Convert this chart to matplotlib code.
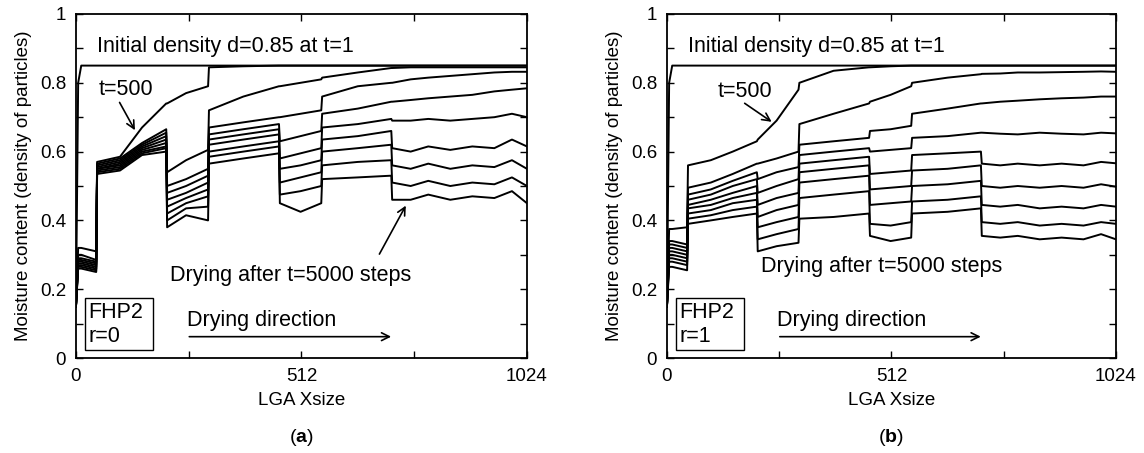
import matplotlib
matplotlib.use("Agg")
import matplotlib.pyplot as plt
from matplotlib.patches import Rectangle

plt.rcParams['font.family'] = ['Liberation Sans', 'DejaVu Sans']
plt.rcParams['mathtext.fontset'] = 'custom'
plt.rcParams['mathtext.rm'] = 'Liberation Sans'
plt.rcParams['mathtext.bf'] = 'Liberation Sans:bold'

X_NODES = [0, 5, 12, 46, 48, 100, 150, 205, 207, 250, 300, 302, 380, 461, 463,
           510, 557, 559, 640, 716, 718, 760, 800, 850, 900, 950, 990, 1024]

# panel (a), r=0 : moisture profiles, top (t=1) to bottom (t=5000)
A_L0 = [0.15, 0.80, 0.85, 0.85, 0.85, 0.85, 0.85, 0.85, 0.85, 0.85, 0.85, 0.85, 0.85, 0.85,
        0.85, 0.85, 0.85, 0.85, 0.85, 0.85, 0.85, 0.85, 0.85, 0.85, 0.85, 0.85, 0.85, 0.85]
A_L1 = [0.15, 0.32, 0.32, 0.31, 0.57, 0.585, 0.67, 0.74, 0.74, 0.77, 0.79, 0.845, 0.848, 0.85,
        0.85, 0.85, 0.85, 0.85, 0.85, 0.85, 0.85, 0.85, 0.85, 0.85, 0.85, 0.85, 0.85, 0.85]
A_L2 = [0.15, 0.30, 0.30, 0.285, 0.565, 0.58, 0.625, 0.665, 0.54, 0.575, 0.605, 0.72, 0.76, 0.79,
        0.79, 0.80, 0.81, 0.815, 0.83, 0.843, 0.843, 0.845, 0.845, 0.845, 0.845, 0.845, 0.845, 0.845]
A_L3 = [0.15, 0.29, 0.29, 0.28, 0.56, 0.575, 0.62, 0.655, 0.50, 0.52, 0.55, 0.67, 0.685, 0.70,
        0.70, 0.71, 0.72, 0.76, 0.79, 0.80, 0.80, 0.81, 0.815, 0.82, 0.825, 0.83, 0.832, 0.832]
A_L4 = [0.15, 0.285, 0.285, 0.275, 0.555, 0.57, 0.615, 0.645, 0.48, 0.50, 0.53, 0.65, 0.665, 0.68,
        0.63, 0.645, 0.66, 0.71, 0.725, 0.745, 0.745, 0.75, 0.755, 0.76, 0.765, 0.775, 0.78, 0.784]
A_L5 = [0.15, 0.28, 0.28, 0.27, 0.55, 0.565, 0.61, 0.635, 0.46, 0.48, 0.51, 0.635, 0.65, 0.665,
        0.58, 0.595, 0.61, 0.67, 0.68, 0.695, 0.69, 0.69, 0.695, 0.69, 0.695, 0.70, 0.71, 0.70]
A_L6 = [0.15, 0.275, 0.275, 0.265, 0.55, 0.56, 0.605, 0.625, 0.44, 0.465, 0.49, 0.62, 0.635, 0.65,
        0.55, 0.56, 0.575, 0.635, 0.645, 0.66, 0.61, 0.60, 0.615, 0.605, 0.615, 0.61, 0.635, 0.615]
A_L7 = [0.15, 0.27, 0.27, 0.26, 0.545, 0.555, 0.60, 0.615, 0.42, 0.45, 0.47, 0.60, 0.615, 0.63,
        0.51, 0.525, 0.54, 0.60, 0.61, 0.62, 0.56, 0.55, 0.565, 0.55, 0.56, 0.555, 0.575, 0.55]
A_L8 = [0.15, 0.265, 0.265, 0.255, 0.54, 0.55, 0.595, 0.61, 0.40, 0.435, 0.44, 0.585, 0.60, 0.615,
        0.475, 0.485, 0.50, 0.56, 0.57, 0.575, 0.51, 0.50, 0.515, 0.50, 0.51, 0.505, 0.525, 0.50]
A_L9 = [0.15, 0.26, 0.26, 0.25, 0.535, 0.545, 0.59, 0.60, 0.38, 0.415, 0.40, 0.565, 0.58, 0.595,
        0.45, 0.425, 0.45, 0.52, 0.525, 0.53, 0.46, 0.46, 0.475, 0.46, 0.47, 0.465, 0.485, 0.45]

# panel (b), r=1
B_L0 = [0.15, 0.80, 0.85, 0.85, 0.85, 0.85, 0.85, 0.85, 0.85, 0.85, 0.85, 0.85, 0.85, 0.85,
        0.85, 0.85, 0.85, 0.85, 0.85, 0.85, 0.85, 0.85, 0.85, 0.85, 0.85, 0.85, 0.85, 0.85]
B_L1 = [0.15, 0.375, 0.375, 0.38, 0.56, 0.575, 0.60, 0.63, 0.635, 0.69, 0.78, 0.80, 0.835, 0.845,
        0.845, 0.848, 0.85, 0.85, 0.85, 0.85, 0.85, 0.85, 0.85, 0.85, 0.85, 0.85, 0.85, 0.85]
B_L2 = [0.15, 0.34, 0.34, 0.33, 0.495, 0.51, 0.535, 0.565, 0.565, 0.58, 0.60, 0.68, 0.71, 0.74,
        0.745, 0.765, 0.79, 0.80, 0.815, 0.825, 0.826, 0.827, 0.83, 0.83, 0.831, 0.832, 0.833, 0.832]
B_L3 = [0.15, 0.33, 0.33, 0.32, 0.475, 0.49, 0.515, 0.54, 0.52, 0.54, 0.555, 0.62, 0.63, 0.64,
        0.66, 0.665, 0.675, 0.71, 0.725, 0.74, 0.74, 0.745, 0.748, 0.752, 0.755, 0.757, 0.76, 0.76]
B_L4 = [0.15, 0.32, 0.32, 0.31, 0.46, 0.475, 0.50, 0.52, 0.48, 0.50, 0.52, 0.59, 0.60, 0.61,
        0.60, 0.605, 0.61, 0.64, 0.645, 0.655, 0.655, 0.652, 0.65, 0.655, 0.652, 0.65, 0.655, 0.653]
B_L5 = [0.15, 0.31, 0.31, 0.30, 0.445, 0.46, 0.48, 0.50, 0.445, 0.465, 0.48, 0.565, 0.575, 0.585,
        0.535, 0.54, 0.545, 0.59, 0.595, 0.60, 0.565, 0.56, 0.565, 0.56, 0.565, 0.56, 0.57, 0.566]
B_L6 = [0.15, 0.30, 0.30, 0.29, 0.435, 0.445, 0.465, 0.48, 0.41, 0.43, 0.445, 0.54, 0.55, 0.56,
        0.49, 0.495, 0.50, 0.545, 0.55, 0.56, 0.50, 0.495, 0.50, 0.495, 0.50, 0.495, 0.505, 0.498]
B_L7 = [0.15, 0.29, 0.29, 0.28, 0.42, 0.43, 0.45, 0.46, 0.38, 0.395, 0.41, 0.51, 0.52, 0.53,
        0.445, 0.45, 0.455, 0.50, 0.505, 0.515, 0.445, 0.44, 0.445, 0.435, 0.44, 0.435, 0.445, 0.44]
B_L8 = [0.15, 0.28, 0.28, 0.27, 0.405, 0.415, 0.43, 0.44, 0.345, 0.36, 0.375, 0.465, 0.475, 0.485,
        0.39, 0.385, 0.395, 0.455, 0.46, 0.47, 0.395, 0.39, 0.395, 0.385, 0.39, 0.385, 0.395, 0.39]
B_L9 = [0.15, 0.265, 0.265, 0.255, 0.39, 0.40, 0.41, 0.42, 0.31, 0.325, 0.335, 0.405, 0.41, 0.42,
        0.355, 0.34, 0.35, 0.42, 0.425, 0.435, 0.355, 0.35, 0.355, 0.345, 0.35, 0.345, 0.36, 0.345]

PANEL_A = [A_L0, A_L1, A_L2, A_L3, A_L4, A_L5, A_L6, A_L7, A_L8, A_L9]
PANEL_B = [B_L0, B_L1, B_L2, B_L3, B_L4, B_L5, B_L6, B_L7, B_L8, B_L9]

X_TICKS = [0, 256, 512, 768, 1024]
X_TICKLABELS = ["0", "", "512", "", "1024"]
Y_TICKS = [0, 0.1, 0.2, 0.3, 0.4, 0.5, 0.6, 0.7, 0.8, 0.9, 1.0]
Y_TICKLABELS = ["0", "", "0.2", "", "0.4", "", "0.6", "", "0.8", "", "1"]

fig = plt.figure(figsize=(11.44, 4.53), dpi=100)
ax_a = fig.add_axes([0.0664, 0.2097, 0.3942, 0.7594])
ax_b = fig.add_axes([0.5830, 0.2097, 0.3925, 0.7594])

ann_fs = 15.5


def draw_panel(ax, curves, r_text, t500_xy, t500_tail, t500_tip, dry_xy, dry_arrow):
    for ys in curves:
        ax.plot(X_NODES, ys, color="black", linewidth=1.4)

    ax.set_xlim(0, 1024)
    ax.set_ylim(0, 1)
    ax.set_xticks(X_TICKS)
    ax.set_xticklabels(X_TICKLABELS)
    ax.set_yticks(Y_TICKS)
    ax.set_yticklabels(Y_TICKLABELS)
    ax.tick_params(direction="in", top=True, right=True, length=5, width=1,
                   labelsize=13.5, pad=7)
    for sp in ax.spines.values():
        sp.set_linewidth(1.3)
    ax.set_xlabel("LGA Xsize", fontsize=13.5, labelpad=5)
    ax.set_ylabel("Moisture content (density of particles)", fontsize=13.5, labelpad=6)

    ax.text(47, 0.905, "Initial density d=0.85 at t=1", fontsize=ann_fs, ha="left", va="center")
    ax.text(t500_xy[0], t500_xy[1], "t=500", fontsize=ann_fs, ha="left", va="center")
    ax.annotate("", xy=t500_tip, xytext=t500_tail,
                arrowprops=dict(arrowstyle="->", lw=1.2, color="black", mutation_scale=14))
    ax.text(dry_xy[0], dry_xy[1], "Drying after t=5000 steps", fontsize=ann_fs,
            ha="left", va="center")
    if dry_arrow is not None:
        ax.annotate("", xy=dry_arrow[1], xytext=dry_arrow[0],
                    arrowprops=dict(arrowstyle="->", lw=1.2, color="black", mutation_scale=14))

    ax.add_patch(Rectangle((20, 0.022), 155, 0.153, fill=False, edgecolor="black", linewidth=1.0))
    ax.text(28, 0.132, "FHP2", fontsize=ann_fs, ha="left", va="center")
    ax.text(28, 0.062, r_text, fontsize=ann_fs, ha="left", va="center")

    ax.text(251, 0.11, "Drying direction", fontsize=ann_fs, ha="left", va="center")
    ax.annotate("", xy=(722, 0.062), xytext=(251, 0.062),
                arrowprops=dict(arrowstyle="->", lw=1.2, color="black", mutation_scale=14))


draw_panel(ax_a, PANEL_A, "r=0", (51, 0.78), (96, 0.75), (137, 0.655),
           (214, 0.24), ((686, 0.295), (752, 0.45)))
draw_panel(ax_b, PANEL_B, "r=1", (115, 0.774), (172, 0.745), (244, 0.682),
           (214, 0.265), None)

fig.text(0.263, 0.035, r"($\mathbf{a}$)", fontsize=14, ha="center", va="center")
fig.text(0.779, 0.035, r"($\mathbf{b}$)", fontsize=14, ha="center", va="center")

fig.savefig("out.png", dpi=100)
